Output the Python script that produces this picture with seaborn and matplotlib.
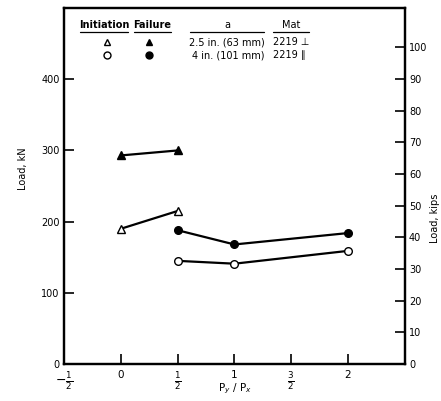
import pandas as pd
import matplotlib.pyplot as plt
import seaborn as sns

# data (load in kN)
ratio_tri = [0.0, 0.5]
init_tri = [190, 215]
fail_tri = [293, 300]
ratio_circ = [0.5, 1.0, 2.0]
init_circ = [145, 141, 159]
fail_circ = [188, 168, 184]

xticks = [-0.5, 0, 0.5, 1, 1.5, 2]
xticklabels = [r"$-\frac{1}{2}$", "0", r"$\frac{1}{2}$", "1", r"$\frac{3}{2}$", "2"]
kn_ticks = [0, 100, 200, 300, 400]
kip_ticks = [0, 10, 20, 30, 40, 50, 60, 70, 80, 90, 100]
KN_PER_KIP = 4.448

sns.set_style("ticks")
plt.rcParams['font.family'] = ['DejaVu Sans']
plt.rcParams['font.size'] = 7
plt.rcParams['xtick.direction'] = 'in'
plt.rcParams['ytick.direction'] = 'in'
plt.rcParams['axes.edgecolor'] = 'black'
plt.rcParams['xtick.color'] = 'black'
plt.rcParams['ytick.color'] = 'black'
plt.rcParams['text.color'] = 'black'
plt.rcParams['axes.labelcolor'] = 'black'

df = pd.concat([
    pd.DataFrame({'ratio': ratio_tri, 'load': init_tri, 'series': 'tri_init'}),
    pd.DataFrame({'ratio': ratio_tri, 'load': fail_tri, 'series': 'tri_fail'}),
    pd.DataFrame({'ratio': ratio_circ, 'load': init_circ, 'series': 'circ_init'}),
    pd.DataFrame({'ratio': ratio_circ, 'load': fail_circ, 'series': 'circ_fail'}),
])

fig = plt.figure(figsize=(4.41, 4.01), dpi=100)
ax = fig.add_axes([0.145, 0.092, 0.773, 0.888])

styles = {
    'tri_init': dict(marker='^', mfc='white'),
    'tri_fail': dict(marker='^', mfc='black'),
    'circ_init': dict(marker='o', mfc='white'),
    'circ_fail': dict(marker='o', mfc='black'),
}
for name, st in styles.items():
    sub = df[df['series'] == name]
    sns.lineplot(data=sub, x='ratio', y='load', ax=ax, color='black', lw=1.6,
                 marker=st['marker'], markersize=5.5, markerfacecolor=st['mfc'],
                 markeredgecolor='black', markeredgewidth=1.0)

ax.set_xlim(-0.5, 2.5)
ax.set_ylim(0, 500)
ax.set_xticks(xticks)
ax.set_xticklabels(xticklabels)
ax.set_yticks(kn_ticks)
ax.tick_params(axis='both', direction='in', length=7, width=1.2, labelsize=7, pad=3)
ax.tick_params(axis='x', labelsize=7.5, pad=4)
for lab in ax.get_xticklabels():
    if "frac" in lab.get_text():
        lab.set_fontsize(9)
ax.set_xlabel(r"P$_y$ / P$_x$", fontsize=7.5)
ax.xaxis.set_label_coords(0.5, -0.05)
ax.set_ylabel("Load, kN", fontsize=7)
ax.yaxis.set_label_coords(-0.105, 0.55)
for s in ax.spines.values():
    s.set_linewidth(1.6)

ax2 = ax.twinx()
ax2.set_ylim(0, 500 / KN_PER_KIP)
ax2.set_yticks(kip_ticks)
ax2.tick_params(axis='y', direction='in', length=7, width=1.2, labelsize=7, pad=3)
ax2.set_ylabel("Load, kips", fontsize=7)
ax2.yaxis.set_label_coords(1.075, 0.41)
for s in ax2.spines.values():
    s.set_linewidth(1.6)

# legend table at the top of the frame
def fx(px):
    return -0.5 + (px - 64) / 341 * 3.0
def fy(py):
    return (364 - py) / 356 * 500

ax.text(fx(104), fy(25), "Initiation", ha='center', va='center', fontsize=7, fontweight='bold')
ax.text(fx(152), fy(25), "Failure", ha='center', va='center', fontsize=7, fontweight='bold')
ax.text(fx(227), fy(25), "a", ha='center', va='center', fontsize=7)
ax.text(fx(291), fy(25), "Mat", ha='center', va='center', fontsize=7)
for x0, x1 in [(80, 128), (134, 171), (190, 264), (273, 309)]:
    ax.plot([fx(x0), fx(x1)], [fy(32), fy(32)], color='black', lw=0.9)
ax.plot([fx(107)], [fy(42)], marker='^', ms=5, mfc='white', mec='black', mew=1.0)
ax.plot([fx(149)], [fy(42)], marker='^', ms=5, mfc='black', mec='black')
ax.plot([fx(107)], [fy(55)], marker='o', ms=5, mfc='white', mec='black', mew=1.0)
ax.plot([fx(149)], [fy(55)], marker='o', ms=5, mfc='black', mec='black')
ax.text(fx(265), fy(42), "2.5 in. (63 mm)", ha='right', va='center', fontsize=7)
ax.text(fx(265), fy(55), "4 in. (101 mm)", ha='right', va='center', fontsize=7)
ax.text(fx(273), fy(42), "2219 \u22a5", ha='left', va='center', fontsize=7)
ax.text(fx(273), fy(55), "2219 \u2225", ha='left', va='center', fontsize=7)

plt.savefig("out.png", dpi=100)
